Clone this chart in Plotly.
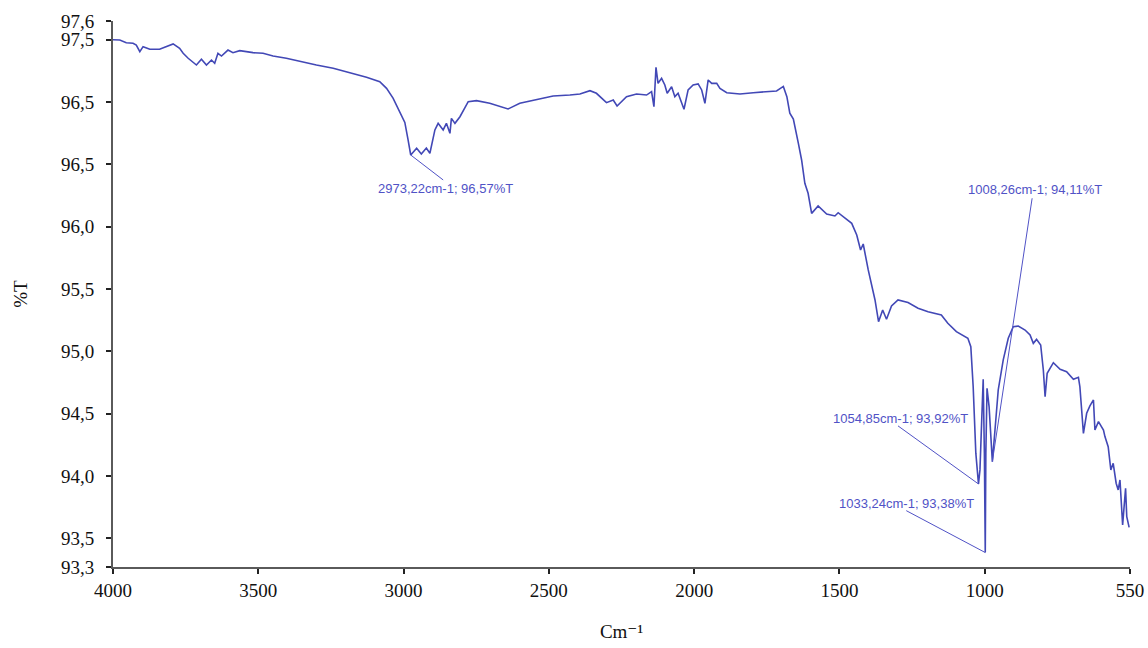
import plotly.graph_objects as go

# ---- spectrum (wavenumber cm-1, %T) ----
wavenumber = [
    4000, 3977, 3955, 3932, 3921, 3909, 3898, 3875, 3842, 3819, 3796, 3774, 3762, 3745,
    3717, 3700, 3683, 3666, 3655, 3644, 3632, 3610, 3593, 3570, 3547, 3525, 3491, 3457,
    3412, 3366, 3310, 3253, 3197, 3140, 3095, 3072, 3050, 3027, 3010, 2999, 2990, 2970,
    2954, 2937, 2925, 2908, 2897, 2880, 2869, 2857, 2852, 2840, 2823, 2795, 2767, 2722,
    2688, 2660, 2620, 2563, 2507, 2450, 2416, 2382, 2360, 2326, 2303, 2290, 2258, 2224,
    2190, 2173, 2165, 2158, 2151, 2139, 2128, 2120, 2105, 2094, 2083, 2063, 2049, 2032,
    2015, 2003, 1992, 1981, 1969, 1952, 1941, 1918, 1873, 1828, 1783, 1749, 1726, 1714,
    1704, 1692, 1675, 1664, 1653, 1642, 1630, 1608, 1579, 1551, 1540, 1511, 1494, 1477,
    1464, 1455, 1438, 1415, 1403, 1389, 1376, 1359, 1337, 1303, 1269, 1235, 1190, 1168,
    1139, 1100, 1090, 1082, 1073, 1064, 1059, 1053, 1048, 1044, 1041, 1039, 1035, 1028,
    1023, 1017, 1008, 997, 980, 963, 946, 929, 906, 889, 878, 867, 853, 844,
    838, 831, 810, 787, 765, 742, 725, 720, 708, 697, 686, 674, 669, 657,
    640, 635, 624, 615, 607, 597, 590, 584, 575, 570, 565, 561, 553,
]
transmittance = [
    97.500, 97.498, 97.476, 97.471, 97.457, 97.404, 97.444, 97.423, 97.423, 97.444, 97.466, 97.431, 97.391, 97.351,
    97.297, 97.343, 97.297, 97.337, 97.311, 97.391, 97.369, 97.417, 97.396, 97.412, 97.401, 97.396, 97.391, 97.369,
    97.351, 97.324, 97.297, 97.271, 97.235, 97.198, 97.163, 97.110, 97.032, 96.912, 96.836, 96.696, 96.575, 96.629,
    96.583, 96.631, 96.589, 96.776, 96.829, 96.776, 96.829, 96.749, 96.869, 96.829, 96.882, 97.003, 97.011, 96.990,
    96.968, 96.944, 96.990, 97.022, 97.048, 97.056, 97.064, 97.091, 97.070, 96.995, 97.016, 96.968, 97.043, 97.064,
    97.056, 97.083, 96.963, 97.279, 97.150, 97.190, 97.137, 97.070, 97.123, 97.043, 97.070, 96.942, 97.097, 97.137,
    97.145, 97.097, 96.990, 97.177, 97.150, 97.150, 97.110, 97.075, 97.064, 97.075, 97.083, 97.089, 97.125, 97.043,
    96.910, 96.864, 96.669, 96.535, 96.348, 96.268, 96.107, 96.166, 96.102, 96.086, 96.112, 96.054, 96.027, 95.933,
    95.813, 95.861, 95.653, 95.412, 95.238, 95.332, 95.257, 95.364, 95.412, 95.391, 95.346, 95.318, 95.292, 95.225,
    95.158, 95.105, 95.037, 94.716, 94.183, 93.936, 94.049, 94.450, 94.776, 94.183, 93.386, 94.183, 94.704, 94.557,
    94.369, 94.115, 94.369, 94.690, 94.931, 95.105, 95.198, 95.203, 95.171, 95.131, 95.064, 95.096, 95.051, 94.850,
    94.636, 94.824, 94.909, 94.856, 94.837, 94.776, 94.792, 94.716, 94.342, 94.503, 94.562, 94.610, 94.369, 94.436,
    94.369, 94.316, 94.235, 94.049, 94.102, 93.942, 93.888, 93.968, 93.607, 93.727, 93.901, 93.673, 93.588,
]

# ---- peak labels ----
peak_labels = ["2973,22cm-1; 96,57%T", "1008,26cm-1; 94,11%T",
               "1054,85cm-1; 93,92%T", "1033,24cm-1; 93,38%T"]
peak_x = [2990, 1017, 1064, 1041]
peak_y = [96.575, 94.115, 93.936, 93.386]
leader_x = [2880, 882, 1337, 1309]
leader_y = [96.375, 96.228, 94.402, 93.722]
label_x = [2871, 873, 1094, 1071]
label_y = [96.308, 96.295, 94.463, 93.782]
label_anchor = ["center", "center", "right", "right"]

# ---- axes ----
x_tick_text = ["4000", "3500", "3000", "2500", "2000", "1500", "1000", "550"]
x_range = [4000, 550]
y_tick_vals = [97.65, 97.5, 97.0, 96.5, 96.0, 95.5, 95.0, 94.5, 94.0, 93.5, 93.27]
y_tick_text = ["97,6", "97,5", "96,5", "96,5", "96,0", "95,5", "95,0", "94,5", "94,0", "93,5", "93,3"]
y_range = [93.27, 97.65]

n = len(x_tick_text) - 1
x_tick_vals = [x_range[0] + (x_range[1] - x_range[0]) * k / n for k in range(n + 1)]

line_color = "#4248b6"
label_color = "#5052c6"
serif = "Liberation Serif, DejaVu Serif, serif"

fig = go.Figure()
fig.add_trace(go.Scatter(x=wavenumber, y=transmittance, mode="lines",
                         line=dict(color=line_color, width=1.6), hoverinfo="skip",
                         showlegend=False))

for i, t in enumerate(peak_labels):
    fig.add_shape(type="line", xref="x", yref="y",
                  x0=peak_x[i], y0=peak_y[i], x1=leader_x[i], y1=leader_y[i],
                  line=dict(color=label_color, width=1))
    fig.add_annotation(x=label_x[i], y=label_y[i], xref="x", yref="y", text=t,
                       showarrow=False, xanchor=label_anchor[i], yanchor="middle",
                       font=dict(family="Liberation Sans, Arial, sans-serif", size=13,
                                 color=label_color))

fig.update_layout(
    width=1148, height=648,
    margin=dict(l=113, r=18, t=21, b=81, autoexpand=False),
    paper_bgcolor="white", plot_bgcolor="white",
    font=dict(family=serif, size=19, color="#111111"),
    xaxis=dict(range=x_range, tickmode="array", tickvals=x_tick_vals, ticktext=x_tick_text,
               showgrid=False, zeroline=False, showline=True, linecolor="#5a5a5a", linewidth=2,
               ticks="outside", ticklen=5, tickwidth=2, tickcolor="#222222", automargin=False,
               title=dict(text="Cm⁻¹", font=dict(family=serif, size=19), standoff=25)),
    yaxis=dict(range=y_range, tickmode="array", tickvals=y_tick_vals, ticktext=y_tick_text,
               showgrid=False, zeroline=False, showline=True, linecolor="#5a5a5a", linewidth=2,
               ticks="outside", ticklen=5, tickwidth=2, tickcolor="#222222", automargin=False,
               ticklabelstandoff=8,
               title=dict(text="%T", font=dict(family=serif, size=19), standoff=28)),
)

fig.write_html("out.html")
